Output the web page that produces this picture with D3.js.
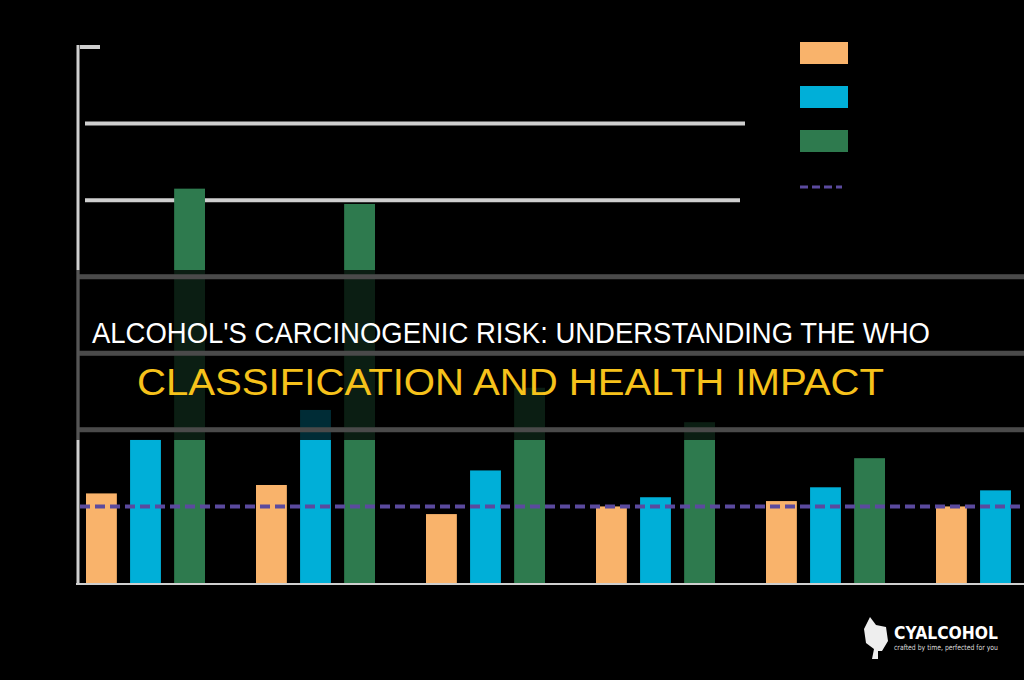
<!DOCTYPE html>
<html><head><meta charset="utf-8">
<script src="https://cdn.jsdelivr.net/npm/d3@7"></script>
<style>body{margin:0;background:#000}</style>
</head><body>
<svg id="c" width="1024" height="680"></svg>
<script>
// chart values
var groups = ["g1", "g2", "g3", "g4", "g5", "g6"];
var seriesA = [1.17, 1.28, 0.9, 1.0, 1.07, 1.0];
var seriesB = [1.87, 2.26, 1.47, 1.12, 1.25, 1.21];
var seriesC = [5.15, 4.95, 2.55, 2.1, 1.63, null];
var refValue = 1.0;
var colors = ["#f9b36b", "#00afd8", "#2e7a4e"];

var svg = d3.select("#c");
var y = d3.scaleLinear().domain([0, 7]).range([583, 47]);
var x = d3.scaleBand().domain(groups).range([86, 1106]);
var inner = d3.scaleBand().domain([0, 1, 2]).range([0, 119]).paddingInner(0.3);

svg.append("rect").attr("width", 1024).attr("height", 680).attr("fill", "#000");

// gridlines
[5, 6].forEach(function(t){
    svg.append("line").attr("x1", 85).attr("x2", t == 6 ? 745 : 740)
        .attr("y1", y(t)).attr("y2", y(t)).attr("stroke", "#cfcfcf").attr("stroke-width", 4);
});
svg.append("line").attr("x1", 80).attr("x2", 100).attr("y1", y(7)).attr("y2", y(7))
    .attr("stroke", "#cfcfcf").attr("stroke-width", 4);
[2, 3, 4].forEach(function(t){
    svg.append("line").attr("x1", 78).attr("x2", 1024).attr("y1", y(t)).attr("y2", y(t))
        .attr("stroke", "#cfcfcf").attr("stroke-width", 4);
});

// bars
[seriesA, seriesB, seriesC].forEach(function(vals, s){
    var rows = vals.map(function(v, i){ return {g: groups[i], v: v}; })
        .filter(function(d){ return d.v != null; });
    svg.selectAll(".b" + s).data(rows).enter().append("rect")
        .attr("x", function(d){ return x(d.g) + inner(s); })
        .attr("y", function(d){ return y(d.v); })
        .attr("width", inner.bandwidth())
        .attr("height", function(d){ return y(0) - y(d.v); })
        .attr("fill", colors[s]);
});

// reference dashed line
svg.append("line").attr("x1", 80).attr("x2", 1024).attr("y1", y(refValue)).attr("y2", y(refValue))
    .attr("stroke", "#5b4a9e").attr("stroke-width", 4).attr("stroke-dasharray", "10,5");

// axes
svg.append("line").attr("x1", 78).attr("x2", 78).attr("y1", y(7) - 2).attr("y2", y(0))
    .attr("stroke", "#cfcfcf").attr("stroke-width", 3);
svg.append("line").attr("x1", 76).attr("x2", 1024).attr("y1", y(0) + 1).attr("y2", y(0) + 1)
    .attr("stroke", "#cfcfcf").attr("stroke-width", 2);

// legend
colors.forEach(function(c, i){
    svg.append("rect").attr("x", 800).attr("y", 42 + i * 44).attr("width", 48).attr("height", 22).attr("fill", c);
});
svg.append("line").attr("x1", 800).attr("x2", 842).attr("y1", 187).attr("y2", 187)
    .attr("stroke", "#5b4a9e").attr("stroke-width", 3).attr("stroke-dasharray", "8,4");

// dark title band
svg.append("rect").attr("x", 0).attr("y", 270).attr("width", 1024).attr("height", 170)
    .attr("fill", "#000").attr("opacity", 0.75);
[2, 3, 4].forEach(function(t){
    svg.append("line").attr("x1", 78).attr("x2", 1024).attr("y1", y(t)).attr("y2", y(t))
        .attr("stroke", "#4a4a4a").attr("stroke-width", 5);
});
svg.append("line").attr("x1", 78).attr("x2", 78).attr("y1", 270).attr("y2", 440)
    .attr("stroke", "#555").attr("stroke-width", 3);

svg.append("text").attr("x", 92).attr("y", 343)
    .attr("font-family", "'Liberation Sans Narrow', 'Liberation Sans', sans-serif")
    .attr("font-size", 29).attr("fill", "#fff")
    .attr("textLength", 838).attr("lengthAdjust", "spacingAndGlyphs")
    .text("ALCOHOL'S CARCINOGENIC RISK: UNDERSTANDING THE WHO");
svg.append("text").attr("x", 137).attr("y", 395)
    .attr("font-family", "'Liberation Sans Narrow', 'Liberation Sans', sans-serif")
    .attr("font-size", 37).attr("fill", "#f6c21b")
    .attr("textLength", 747).attr("lengthAdjust", "spacingAndGlyphs")
    .text("CLASSIFICATION AND HEALTH IMPACT");

// logo
var logo = svg.append("g").attr("transform", "translate(862,617)");
logo.append("path").attr("d", "M8,0 L14,8 L24,10 L26,24 L20,34 L16,34 L16,42 L10,42 L12,32 L4,26 L2,12 Z")
    .attr("fill", "#eee");
logo.append("text").attr("x", 32).attr("y", 22).attr("fill", "#fff")
    .attr("font-family", "'DejaVu Sans', sans-serif").attr("font-weight", "bold")
    .attr("font-size", 17).attr("textLength", 104).attr("lengthAdjust", "spacingAndGlyphs").text("CYALCOHOL");
logo.append("text").attr("x", 32).attr("y", 33).attr("fill", "#ddd")
    .attr("font-family", "'DejaVu Sans', sans-serif").attr("font-size", 7.5)
    .attr("textLength", 104).attr("lengthAdjust", "spacingAndGlyphs").text("crafted by time, perfected for you");
</script>
</body></html>
